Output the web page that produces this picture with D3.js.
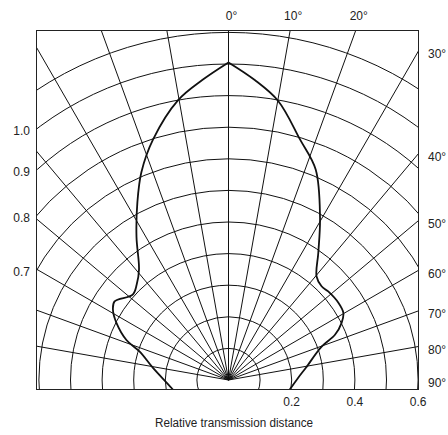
<!DOCTYPE html>
<html>
<head>
<meta charset="utf-8">
<script src="https://cdn.jsdelivr.net/npm/d3@7"></script>
<style>
  body { margin: 0; background: #fff; }
  text { font-family: "Liberation Sans Narrow", "Liberation Sans", Arial, sans-serif; font-size: 12px; fill: #222; }
</style>
</head>
<body>
<svg id="chart" width="448" height="435"></svg>
<script>
// grid
const gridRadii = [0.1, 0.2, 0.3, 0.4, 0.5, 0.6, 0.7, 0.8, 0.9, 1.0, 1.1];
const gridAngles = [-80, -70, -60, -50, -40, -30, -20, -10, 0, 10, 20, 30, 40, 50, 60, 70, 80];

// tick labels
const topLabels = [0, 10, 20];
const rightLabels = [30, 40, 50, 60, 70, 80, 90];
const leftLabels = [1.0, 0.9, 0.8, 0.7];
const bottomLabels = [0.2, 0.4, 0.6];

// directivity pattern (degrees, relative distance)
const patternAngles = [-110, -98, -80.9, -72.3, -68.6, -63, -58.7, -55.4, -48.3, -43.9, -39, -32.7, -27.2, -22.75, -17.4, -10.2, -5,
  0, 5, 10.1, 16.5, 22.5, 29.4, 35.2, 40.4, 44.8, 48.4, 54.9, 59.7, 63.2, 67, 70.3, 81, 88.7, 98.4, 108];
const patternRadii = [0.164, 0.182, 0.242, 0.295, 0.347, 0.398, 0.428, 0.438, 0.406, 0.419, 0.45, 0.539, 0.631, 0.713, 0.798, 0.9, 0.953,
  1.005, 0.953, 0.897, 0.795, 0.721, 0.59, 0.493, 0.43, 0.418, 0.422, 0.425, 0.421, 0.401, 0.366, 0.313, 0.248, 0.219, 0.197, 0.182];

const svg = d3.select("#chart");

// frame and origin
const x0 = 36.5, x1 = 418.5, y0 = 30.5, y1 = 389.5;
const cx = 228.5, cy = 380;
const r = d3.scaleLinear().domain([0, 1]).range([0, 316]);
const rad = d => d * Math.PI / 180;

svg.append("clipPath").attr("id", "frame")
  .append("rect").attr("x", x0).attr("y", y0).attr("width", x1 - x0).attr("height", y1 - y0);

const plot = svg.append("g").attr("clip-path", "url(#frame)");
const g = plot.append("g").attr("transform", `translate(${cx},${cy})`);

// concentric circles
g.selectAll("circle.grid")
  .data(gridRadii)
  .enter()
  .append("circle")
  .attr("class", "grid")
  .attr("r", d => r(d))
  .attr("fill", "none")
  .attr("stroke", "#111")
  .attr("stroke-width", 1);

// radial lines
g.selectAll("line.spoke")
  .data(gridAngles)
  .enter()
  .append("line")
  .attr("class", "spoke")
  .attr("x1", 0).attr("y1", 0)
  .attr("x2", d => r(2) * Math.sin(rad(d)))
  .attr("y2", d => -r(2) * Math.cos(rad(d)))
  .attr("stroke", "#111")
  .attr("stroke-width", 1);

// pattern curve: two halves meeting in a cusp at 0°
const pattern = patternAngles.map((a, i) => ({ a: a, p: [rad(a), r(patternRadii[i])] }));
const halves = [pattern.filter(d => d.a <= 0), pattern.filter(d => d.a >= 0)];
const radial = d3.lineRadial().angle(d => d.p[0]).radius(d => d.p[1]).curve(d3.curveCatmullRom.alpha(0.5));
g.selectAll("path.pattern")
  .data(halves)
  .enter()
  .append("path")
  .attr("class", "pattern")
  .attr("d", radial)
  .attr("fill", "none")
  .attr("stroke", "#111")
  .attr("stroke-width", 1.8)
  .attr("stroke-linejoin", "miter");

// frame
svg.append("rect")
  .attr("x", x0).attr("y", y0).attr("width", x1 - x0).attr("height", y1 - y0)
  .attr("fill", "none").attr("stroke", "#222").attr("stroke-width", 1);

// top angle labels
svg.selectAll("text.top")
  .data(topLabels)
  .enter()
  .append("text")
  .attr("class", "top")
  .attr("x", d => cx + (cy - y0) * Math.tan(rad(d)) + 3)
  .attr("y", 20)
  .attr("text-anchor", "middle")
  .text(d => d + "°");

// right angle labels
svg.selectAll("text.right")
  .data(rightLabels)
  .enter()
  .append("text")
  .attr("class", "right")
  .attr("x", 428)
  .attr("y", d => (d === 90 ? cy : cy - (x1 - cx) / Math.tan(rad(d))) + 3)
  .attr("dy", "0.35em")
  .text(d => d + "°");

// left radius labels (where each circle meets the left edge)
svg.selectAll("text.left")
  .data(leftLabels)
  .enter()
  .append("text")
  .attr("class", "left")
  .attr("x", 30)
  .attr("y", d => cy - Math.sqrt(r(d) * r(d) - (cx - x0) * (cx - x0)) + 2)
  .attr("dy", "0.35em")
  .attr("text-anchor", "end")
  .text(d => d3.format(".1f")(d));

// bottom radius labels
svg.selectAll("text.bottom")
  .data(bottomLabels)
  .enter()
  .append("text")
  .attr("class", "bottom")
  .attr("x", d => cx + r(d))
  .attr("y", 406)
  .attr("text-anchor", "middle")
  .text(d => d3.format(".1f")(d));

svg.append("text")
  .attr("x", 234)
  .attr("y", 427)
  .attr("text-anchor", "middle")
  .attr("textLength", 158)
  .attr("lengthAdjust", "spacingAndGlyphs")
  .text("Relative transmission distance");
</script>
</body>
</html>
